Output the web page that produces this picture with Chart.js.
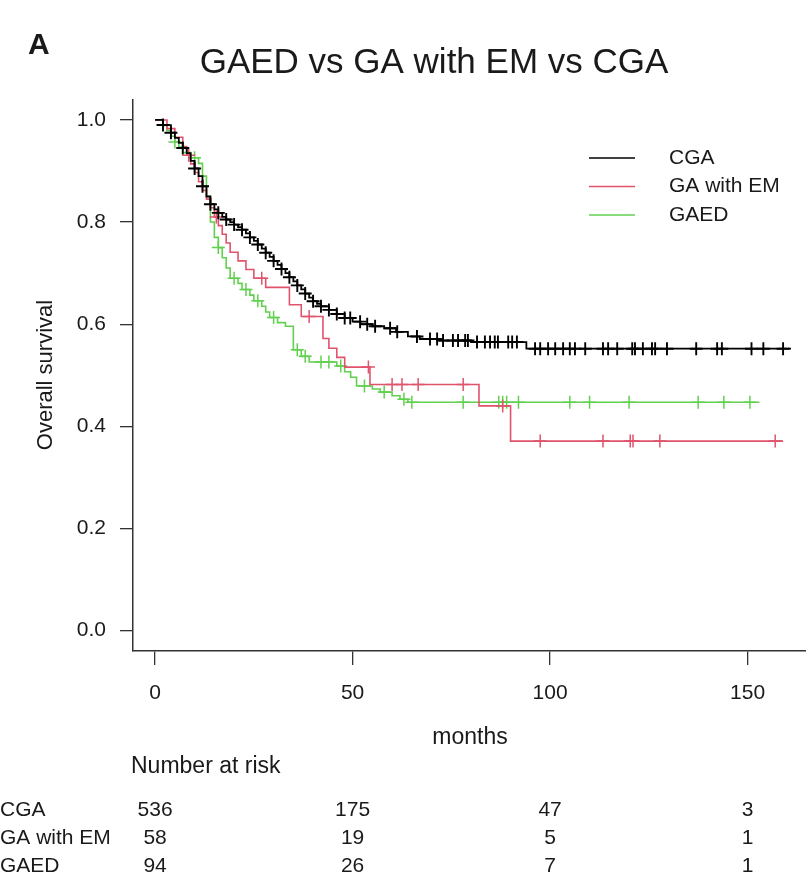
<!DOCTYPE html>
<html>
<head>
<meta charset="utf-8">
<script src="https://cdn.jsdelivr.net/npm/chart.js@4.4.1/dist/chart.umd.min.js"></script>
<style>
  html, body { margin: 0; padding: 0; background: #fff; }
  canvas { display: block; }
</style>
</head>
<body>
<canvas id="km" width="806" height="880"></canvas>
<script>
// Kaplan-Meier curves (months, survival)
const groupNames = ['CGA', 'GA with EM', 'GAED'];
const groupColors = ['#000000', '#DF536B', '#61D04F'];

const cgaTime = [0,2,4,5,6,7,8,9,10,11,12,13,14,15,16,17,18,19,20,21,22,23,24,25,26,27,28,29,30,31,32,33,34,35,36,37,38,39,40,41,42,44,46,48,50,52,55,58,61,64,67,72,80,94,161];
const cgaSurv = [1,0.99,0.975,0.965,0.955,0.945,0.935,0.92,0.905,0.89,0.87,0.85,0.835,0.825,0.818,0.81,0.805,0.80,0.795,0.79,0.785,0.778,0.77,0.763,0.756,0.748,0.74,0.732,0.724,0.716,0.708,0.70,0.692,0.684,0.676,0.668,0.66,0.652,0.645,0.64,0.635,0.628,0.62,0.612,0.605,0.60,0.596,0.592,0.585,0.576,0.571,0.568,0.565,0.552,0.552];
const cgaCensor = [2,4,7,10,12,14,16,18,20,22,24,26,28,30,32,34,36,38,40,42,44,46,48,49.4,51.9,53.7,55.7,59.5,61.3,66.3,69.6,71.4,72.9,75.4,76.7,78.5,79.2,81.5,83.5,84.8,86,86.8,89.4,90.4,91.6,96.2,97.5,99.5,101.3,103.3,105,106.3,108.9,113.4,114.7,117,120.8,121.5,123.5,125.8,126.6,129.6,137,142.3,143.5,151,154,159];

const emTime = [0,3,5,7,8,9,10,11,12,13,14,15,16,17,18,19,21,23,25,28,34,37,42.5,44,46,48,54.4,82,90,159];
const emSurv = [1,0.983,0.966,0.948,0.931,0.914,0.897,0.879,0.862,0.845,0.828,0.81,0.793,0.776,0.759,0.741,0.724,0.707,0.69,0.672,0.638,0.615,0.572,0.553,0.535,0.516,0.482,0.44,0.371,0.371];
const emCensor = [8.5,15.5,27,39,54,60,62.5,66.6,78,88,97.5,113.4,120.3,121,127.8,157];

const gaedTime = [0,2,3,4,5,6,7,9,11,12,13,14,15,16,17,18,19,21,22,24,25,27,28,29,31,33,35,37,39,46,48,49.5,51,55,57,60,62,64,153];
const gaedSurv = [1,0.989,0.979,0.968,0.957,0.947,0.936,0.926,0.915,0.89,0.85,0.80,0.77,0.75,0.73,0.71,0.69,0.68,0.668,0.657,0.646,0.635,0.624,0.613,0.603,0.596,0.55,0.537,0.526,0.518,0.507,0.496,0.479,0.473,0.467,0.46,0.453,0.447,0.447];
const gaedCensor = [5,10,16,20,23,26,30,36,38,42,44,47,53,58,63,65,78,87,88,89,92,105,110,120,137.5,144,150.6];

// axis ticks
const xTicks = [0, 50, 100, 150];
const yTicks = [0, 0.2, 0.4, 0.6, 0.8, 1.0];

// number at risk table
const riskTimes = [0, 50, 100, 150];
const riskCGA = [536, 175, 47, 3];
const riskEM = [58, 19, 5, 1];
const riskGAED = [94, 26, 7, 1];

const chartTitle = 'GAED vs GA with EM vs CGA';
const xTitle = 'months';
const yTitle = 'Overall survival';

const FONT = '"Liberation Sans", Arial, Helvetica, sans-serif';

function toPoints(times, surv) {
    return times.map((t, i) => ({ x: t, y: surv[i] }));
}

// survival value of the step curve at time t (for placing censor marks)
function survAt(times, surv, t) {
    let s = surv[0];
    for (let i = 0; i < times.length; i++) {
        if (times[i] <= t) s = surv[i];
    }
    return s;
}

function censorPoints(censor, times, surv) {
    return censor.map(t => ({ x: t, y: survAt(times, surv, t) }));
}

const curves = [
    [cgaTime, cgaSurv, cgaCensor],
    [emTime, emSurv, emCensor],
    [gaedTime, gaedSurv, gaedCensor]
];

const datasets = [];
curves.forEach(([times, surv, censor], i) => {
    datasets.push({
        label: groupNames[i],
        data: toPoints(times, surv),
        borderColor: groupColors[i],
        borderWidth: i === 0 ? 1.8 : 1.6,
        stepped: 'before',
        pointRadius: 0,
        fill: false,
        order: i
    });
    datasets.push({
        label: groupNames[i] + ' censored',
        data: censorPoints(censor, times, surv),
        showLine: false,
        pointStyle: 'cross',
        pointRadius: 6.5,
        pointBorderWidth: i === 0 ? 1.9 : 1.5,
        pointBorderColor: groupColors[i],
        pointBackgroundColor: groupColors[i],
        order: i
    });
});

const textPlugin = {
    id: 'kmText',
    afterDraw(chart) {
        const ctx = chart.ctx;
        const xs = chart.scales.x;
        ctx.save();
        ctx.fillStyle = '#1a1a1a';
        ctx.textBaseline = 'middle';

        // panel letter and title
        ctx.textAlign = 'left';
        ctx.font = 'bold 30px ' + FONT;
        ctx.fillText('A', 28, 46);
        ctx.textAlign = 'center';
        ctx.font = '35px ' + FONT;
        ctx.fillText(chartTitle, 434, 63);

        // axis titles
        ctx.font = '22px ' + FONT;
        ctx.save();
        ctx.translate(46, 375);
        ctx.rotate(-Math.PI / 2);
        ctx.fillText(yTitle, 0, 0);
        ctx.restore();
        ctx.font = '23px ' + FONT;
        ctx.fillText(xTitle, 470, 738);

        // legend
        ctx.font = '21px ' + FONT;
        ctx.textAlign = 'left';
        groupNames.forEach((name, i) => {
            const y = 158 + i * 28.5;
            ctx.strokeStyle = groupColors[i];
            ctx.lineWidth = 1.6;
            ctx.beginPath();
            ctx.moveTo(589, y);
            ctx.lineTo(635, y);
            ctx.stroke();
            ctx.fillStyle = '#1a1a1a';
            ctx.fillText(name, 669, y);
        });

        // number at risk
        ctx.font = '23px ' + FONT;
        ctx.fillText('Number at risk', 131, 767);
        const rows = [riskCGA, riskEM, riskGAED];
        ctx.font = '21px ' + FONT;
        rows.forEach((vals, r) => {
            const y = 810 + r * 28;
            ctx.textAlign = 'left';
            ctx.fillText(groupNames[r], 0, y);
            ctx.textAlign = 'center';
            vals.forEach((v, j) => {
                ctx.fillText(String(v), xs.getPixelForValue(riskTimes[j]), y);
            });
        });
        ctx.restore();
    }
};

new Chart(document.getElementById('km').getContext('2d'), {
    type: 'line',
    data: { datasets },
    options: {
        responsive: false,
        animation: false,
        layout: { autoPadding: false, padding: { top: 99.5, right: 0, bottom: 0, left: 0 } },
        plugins: {
            legend: { display: false },
            title: { display: false },
            tooltip: { enabled: false }
        },
        scales: {
            x: {
                type: 'linear',
                min: -5.6,
                max: 164.8,
                afterBuildTicks: s => { s.ticks = xTicks.map(v => ({ value: v })); },
                afterFit: s => { s.height = 880 - 651; s.paddingLeft = 0; s.paddingRight = 0; },
                grid: { drawOnChartArea: false, drawTicks: true, tickLength: 14, color: '#333', lineWidth: 1.3 },
                border: { display: true, color: '#333', width: 1.5 },
                ticks: { color: '#1a1a1a', font: { family: FONT, size: 21 }, padding: 16, maxRotation: 0 }
            },
            y: {
                type: 'linear',
                min: -0.04,
                max: 1.04,
                afterBuildTicks: s => { s.ticks = yTicks.map(v => ({ value: v })); },
                afterFit: s => { s.width = 133; s.paddingTop = 0; s.paddingBottom = 0; },
                grid: { drawOnChartArea: false, drawTicks: true, tickLength: 13, color: '#333', lineWidth: 1.3 },
                border: { display: true, color: '#333', width: 1.5 },
                ticks: { color: '#1a1a1a', font: { family: FONT, size: 21 }, padding: 14, callback: v => v.toFixed(1) }
            }
        }
    },
    plugins: [textPlugin]
});
</script>
</body>
</html>
